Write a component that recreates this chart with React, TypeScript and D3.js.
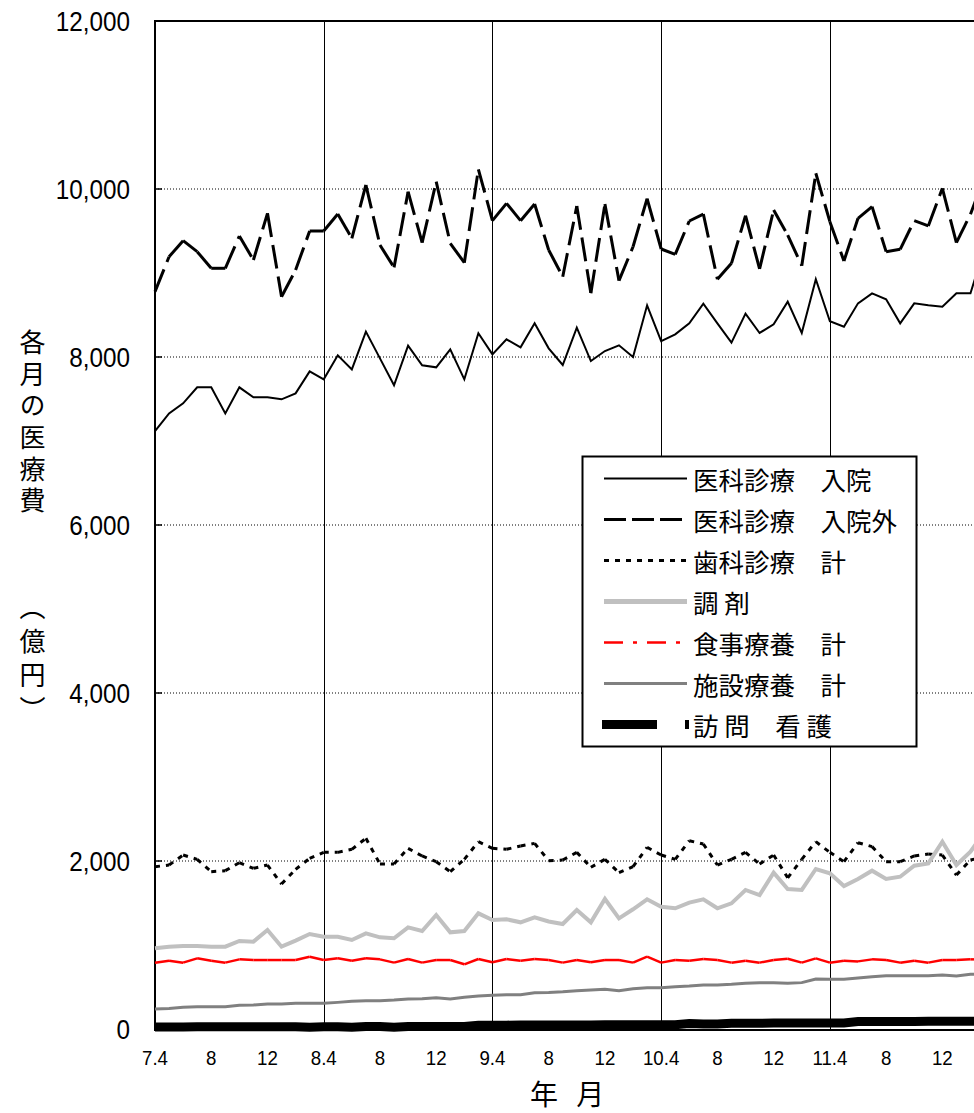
import * as d3 from "d3";

// 平成7年4月 〜 平成12年3月 (月次, 億円)
const tickLabels = ["7.4", "8", "12", "8.4", "8", "12", "9.4", "8", "12", "10.4", "8", "12", "11.4", "8", "12"];
const yTicks = [0, 2000, 4000, 6000, 8000, 10000, 12000];

const nyuin = [
  7119, 7329, 7448, 7639, 7639, 7329, 7639, 7520, 7520, 7496, 7567, 7829,
  7734, 8020, 7853, 8302, 7984, 7663, 8135, 7901, 7877, 8091, 7734, 8282,
  8032, 8210, 8115, 8401, 8103, 7905, 8349, 7952, 8071, 8139, 8000, 8615,
  8190, 8270, 8401, 8635, 8401, 8171, 8516, 8286, 8389, 8659, 8286, 8925,
  8425, 8361, 8639, 8758, 8687, 8401, 8639, 8615, 8599, 8758, 8758, 9300,
];
const gairai = [
  8778, 9194, 9385, 9254, 9056, 9056, 9440, 9155, 9710, 8718, 9036, 9500,
  9500, 9702, 9413, 10048, 9333, 9067, 9968, 9361, 10087, 9353, 9123, 10234,
  9623, 9829, 9623, 9821, 9274, 8956, 9798, 8758, 9821, 8909, 9313, 9885,
  9286, 9222, 9619, 9702, 8925, 9115, 9682, 9048, 9750, 9452, 9087, 10187,
  9611, 9143, 9651, 9790, 9254, 9282, 9623, 9560, 10008, 9361, 9700, 10150,
];
const shika = [
  1932, 1952, 2071, 2020, 1873, 1885, 1980, 1913, 1952, 1726, 1901, 2032,
  2103, 2103, 2139, 2270, 1964, 1964, 2151, 2060, 1992, 1873, 2020, 2230,
  2151, 2139, 2179, 2210, 2004, 2012, 2103, 1925, 2020, 1861, 1932, 2163,
  2071, 2020, 2242, 2202, 1952, 2020, 2103, 1964, 2071, 1800, 2020, 2230,
  2103, 1992, 2218, 2171, 1992, 1992, 2060, 2083, 2071, 1833, 2012, 2050,
];
const chozai = [
  960, 980, 988, 988, 980, 980, 1048, 1040, 1179, 980, 1052, 1131,
  1099, 1099, 1060, 1139, 1091, 1080, 1210, 1167, 1357, 1151, 1167, 1377,
  1298, 1306, 1270, 1329, 1280, 1250, 1417, 1270, 1548, 1317, 1425, 1544,
  1456, 1437, 1504, 1544, 1437, 1496, 1655, 1595, 1861, 1667, 1655, 1905,
  1853, 1702, 1786, 1885, 1786, 1813, 1944, 1972, 2230, 1952, 2111, 2350,
];
const shokuji = [
  790, 813, 790, 841, 813, 790, 829, 821, 821, 821, 821, 861,
  821, 841, 813, 841, 829, 790, 833, 790, 821, 821, 770, 833,
  794, 833, 813, 833, 821, 790, 821, 794, 821, 821, 790, 861,
  790, 821, 813, 833, 821, 790, 813, 790, 821, 837, 790, 841,
  790, 813, 805, 829, 821, 790, 813, 790, 821, 821, 829, 829,
];
const shisetsu = [
  238, 245, 258, 266, 266, 266, 282, 286, 298, 298, 306, 306,
  306, 317, 329, 337, 337, 345, 357, 361, 373, 357, 377, 393,
  401, 409, 409, 432, 436, 444, 456, 464, 472, 456, 480, 492,
  492, 504, 512, 524, 524, 532, 544, 552, 552, 544, 552, 595,
  591, 591, 607, 623, 635, 635, 635, 635, 643, 631, 651, 655,
];
const houmon = [
  24, 25, 25, 26, 26, 26, 27, 27, 27, 28, 28, 20,
  28, 28, 22, 29, 29, 22, 30, 30, 30, 31, 31, 45,
  46, 46, 47, 47, 48, 48, 49, 49, 50, 50, 51, 51,
  52, 52, 66, 60, 60, 68, 69, 69, 70, 70, 71, 71,
  72, 72, 88, 89, 89, 90, 90, 91, 91, 92, 92, 93,
];

const series = [
  { name: "医科診療　入院", values: nyuin, color: "#000000", width: 2, dash: null, legendDash: null },
  { name: "医科診療　入院外", values: gairai, color: "#000000", width: 3, dash: "24,8", legendDash: "22,6" },
  { name: "歯科診療　計", values: shika, color: "#000000", width: 3, dash: "5,6", legendDash: "5,6" },
  { name: "調 剤", values: chozai, color: "#c0c0c0", width: 4, dash: null, legendDash: null },
  { name: "食事療養　計", values: shokuji, color: "#ff0000", width: 2.5, dash: "19,10,4,10", legendDash: "19,10,4,10" },
  { name: "施設療養　計", values: shisetsu, color: "#808080", width: 3, dash: null, legendDash: null },
  { name: "訪 問　看 護", values: houmon, color: "#000000", width: 9, dash: null, legendDash: "55,28,4,100" },
];

const W = 974;
const H = 1113;
const left = 155;
const top = 21;
const bottom = 1029;

const num = "'Liberation Sans', Arial, sans-serif";
const jp = "'Noto Sans CJK JP', sans-serif";

export default function App() {
  const x = d3.scaleLinear().domain([0, 60]).range([left, left + 60 * 14.06]);
  const y = d3.scaleLinear().domain([0, 12000]).range([bottom, top]);
  const line = d3.line<number>().x((d, i) => x(i)).y((d) => y(d));
  const fmt = d3.format(",");

  return (
    <div style={{ position: "absolute", left: 0, top: 0 }}>
      <svg width={W} height={H} style={{ display: "block", background: "#fff" }}>
        {/* gridlines */}
        {yTicks.filter((t) => t > 0 && t < 12000).map((t) => (
          <line key={t} x1={left} x2={W} y1={y(t)} y2={y(t)} stroke="#000" strokeWidth={1} strokeDasharray="1,2" />
        ))}
        {[12, 24, 36, 48].map((m) => (
          <line key={m} x1={Math.round(x(m)) + 0.5} x2={Math.round(x(m)) + 0.5} y1={top} y2={bottom} stroke="#000" strokeWidth={1} />
        ))}
        <line x1={left} x2={W} y1={top} y2={top} stroke="#000" strokeWidth={2} />
        <line x1={left} x2={left} y1={top - 1} y2={bottom + 2} stroke="#000" strokeWidth={2} />
        <line x1={left - 1} x2={W} y1={bottom + 1} y2={bottom + 1} stroke="#000" strokeWidth={2} />
        {yTicks.map((t) => (
          <line key={"tk" + t} x1={left} x2={left + 7} y1={y(t)} y2={y(t)} stroke="#000" strokeWidth={1.5} />
        ))}

        {/* series */}
        {series.map((s) =>
          s.dash ? (
            <g key={s.name}>
              {d3.pairs(s.values.map((v, i) => [x(i), y(v)])).map(([a, b], k) => (
                <line key={k} x1={a[0]} y1={a[1]} x2={b[0]} y2={b[1]} stroke={s.color} strokeWidth={s.width} strokeDasharray={s.dash} />
              ))}
            </g>
          ) : (
            <path key={s.name} d={line(s.values) || ""} fill="none" stroke={s.color} strokeWidth={s.width} strokeLinejoin="miter" />
          )
        )}

        {/* y tick labels */}
        {yTicks.map((t) => (
          <text key={"yl" + t} transform={`translate(130, ${y(t) + 10}) scale(0.9,1)`} textAnchor="end" fontFamily={num} fontSize={27} fill="#000">
            {fmt(t)}
          </text>
        ))}

        {/* x tick labels */}
        {tickLabels.map((lab, k) => (
          <text key={"xl" + k} transform={`translate(${x(k * 4)}, 1065) scale(0.89,1)`} textAnchor="middle" fontFamily={num} fontSize={21} fill="#000">
            {lab}
          </text>
        ))}

        {/* axis titles */}
        <text x={530} y={1105} fontFamily={jp} fontSize={28} letterSpacing={6} fill="#000">年 月</text>
        <text x={32.5} y={329} fontFamily={jp} fontSize={26} letterSpacing={5.7} fill="#000" style={{ writingMode: "vertical-rl" }}>
          各月の医療費
        </text>
        <text x={32.5} y={594} fontFamily={jp} fontSize={26} letterSpacing={8} fill="#000" style={{ writingMode: "vertical-rl" }}>
          （億円）
        </text>

        {/* legend */}
        <g>
          <rect x={582.5} y={456.5} width={334} height={290} fill="#fff" stroke="#000" strokeWidth={2} />
          {series.map((s, k) => {
            const ly = 478.5 + k * 41;
            return (
              <g key={"lg" + k}>
                <line
                  x1={s.width > 5 ? 602 : 604}
                  x2={s.width > 5 ? 690 : 687}
                  y1={ly}
                  y2={ly}
                  stroke={s.color}
                  strokeWidth={s.width === 4 ? 5 : s.width}
                  strokeDasharray={s.legendDash || undefined}
                />
                <text x={693} y={ly} dominantBaseline="central" fontFamily={jp} fontSize={25.5} fill="#000">
                  {s.name}
                </text>
              </g>
            );
          })}
        </g>
      </svg>
    </div>
  );
}
